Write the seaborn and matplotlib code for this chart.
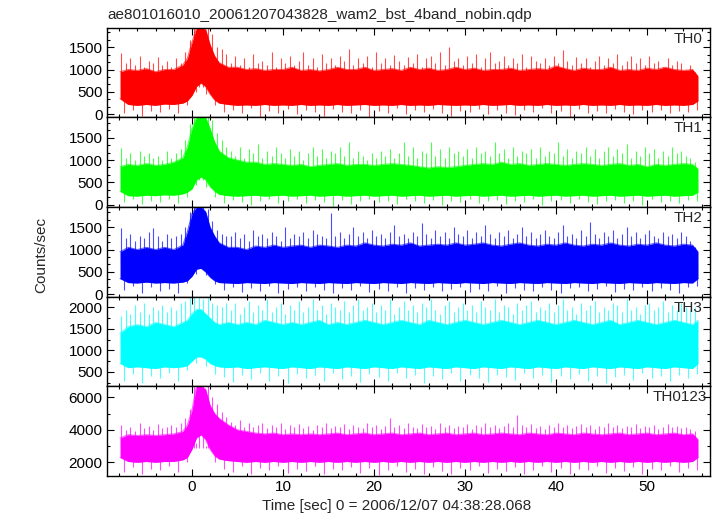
import matplotlib

matplotlib.use("Agg")
import matplotlib.pyplot as plt
import numpy as np
import seaborn as sns
from matplotlib.ticker import MultipleLocator

# Time grid (sec) of the envelope readings, finer around the burst
TIME = [-7.9, -7, -6, -5, -4, -3, -2, -1, -0.5, 0, 0.5, 1, 1.5, 2, 2.5, 3,
        4, 5, 6, 7, 8, 9, 10, 11, 12, 13, 14, 15, 16,
        17, 18, 19, 20, 21, 22, 23, 24, 25, 26, 27, 28, 29,
        30, 31, 32, 33, 34, 35, 36, 37, 38, 39, 40, 41, 42,
        43, 44, 45, 46, 47, 48, 49, 50, 51, 52, 53, 54, 55, 55.6]

# spikes: upward ones read every 0.5 s, downward ones every 1 s
UP_T = [-7.75 + 0.5 * i for i in range(127)]
DN_T = [-7.5 + 1.0 * i for i in range(64)]

# ---- TH0 ----
TH0_HI = [950, 1000, 980, 1020, 950, 1000, 1000, 1100, 1250, 1600, 1930, 1930, 1900, 1550, 1300, 1150,
          1050, 1050, 1000, 1020, 980, 1000, 1000, 1050, 980, 1000, 970, 1000, 1050,
          1000, 1000, 1050, 980, 1000, 1020, 980, 1050, 1000, 1030, 980, 1000, 1050,
          1000, 1030, 980, 1000, 1000, 1030, 980, 1000, 1020, 1000, 1080, 1020, 980,
          1030, 1000, 1000, 1050, 980, 1000, 980, 1030, 1000, 1050, 1000, 980, 1000, 850]
TH0_LO = [350, 220, 200, 220, 200, 230, 220, 250, 300, 420, 620, 700, 620, 450, 320, 250,
          220, 200, 210, 200, 220, 200, 210, 200, 220, 200, 210, 200, 220,
          200, 210, 220, 200, 210, 200, 220, 200, 210, 200, 220, 210, 200,
          210, 200, 220, 200, 210, 220, 200, 210, 200, 220, 200, 210, 200,
          220, 200, 210, 200, 220, 200, 210, 200, 220, 200, 210, 200, 220, 300]
TH0_UP = [1370, 1150, 1250, 1100, 1300, 1050, 1200, 1150, 1280, 1100, 1200, 1050, 1250, 1150,
          1400, 1650, 1930, 1930, 1930, 1930, 1800, 1500, 1450, 1350,
          1150, 1300, 1100, 1250, 1050, 1350, 1150, 1200, 1100, 1400,
          1050, 1250, 1150, 1300, 1100, 1200, 1380, 1100, 1250, 1050,
          1350, 1150, 1250, 1100, 1300, 1200, 1450, 1100, 1250, 1150,
          1300, 1050, 1400, 1150, 1250, 1100, 1330, 1200, 1100, 1280,
          1150, 1350, 1050, 1250, 1300, 1150, 1380, 1100, 1500, 1200,
          1250, 1100, 1300, 1150, 1350, 1050, 1250, 1380, 1150, 1200,
          1300, 1100, 1250, 1150, 1350, 1050, 1300, 1200, 1150, 1250,
          1100, 1300, 1150, 1430, 1200, 1100, 1280, 1150, 1250, 1050,
          1200, 1300, 1100, 1250, 1150, 1350, 1100, 1200, 1300, 1150,
          1250, 1100, 1300, 1150, 1200, 1050, 1250, 1100, 1200, 1150,
          1000, 1100, 950]
TH0_DN = [30, 100, -40, 80, 50, 120, 20, 200, 500, 450,
          200, 60, 100, 20, 130, -50, 80, 40, 110, 10,
          90, 60, -30, 120, 50, 20, 100, -60, 70, 40,
          130, 0, 90, 50, 110, 20, -40, 80, 60, 120,
          10, 100, 40, -20, 90, 60, 130, 30, 70, -50,
          110, 40, 80, 20, 120, 60, 0, 90, 50, 100,
          30, 80, 60, 100]

# ---- TH1 ----
TH1_HI = [850, 900, 880, 920, 880, 900, 950, 1050, 1300, 1700, 1955, 1955, 1955, 1700, 1400, 1200,
          1050, 1000, 950, 950, 900, 920, 900, 880, 900, 850, 880, 900, 920,
          880, 900, 900, 880, 900, 920, 900, 880, 850, 820, 850, 830, 850,
          880, 900, 920, 900, 950, 900, 920, 880, 900, 920, 900, 880, 900,
          920, 900, 880, 900, 920, 880, 900, 850, 900, 880, 900, 920, 900, 800]
TH1_LO = [300, 200, 190, 210, 200, 220, 210, 240, 280, 350, 550, 620, 560, 400, 300, 230,
          200, 190, 200, 210, 190, 200, 210, 190, 200, 210, 190, 200, 210,
          190, 200, 210, 190, 200, 210, 190, 200, 210, 190, 200, 210, 190,
          200, 210, 190, 200, 210, 190, 200, 210, 190, 200, 210, 190, 200,
          210, 190, 200, 210, 190, 200, 210, 190, 200, 210, 190, 200, 210, 280]
TH1_UP = [1280, 1050, 1150, 1000, 1200, 1100, 1150, 1050, 1100, 1000, 1200, 1050, 1150, 1250,
          1450, 1800, 1955, 1955, 1955, 1955, 1900, 1600, 1450, 1300,
          1200, 1100, 1300, 1050, 1250, 1150, 1350, 1050, 1200, 1100,
          1300, 1150, 1050, 1250, 1100, 1200, 1000, 1150, 1300, 1100,
          1250, 1050, 1200, 1150, 1300, 1100, 1400, 1050, 1200, 1100,
          1000, 1150, 1050, 1200, 1100, 1250, 1050, 1150, 1400, 1100,
          1300, 1050, 1200, 1150, 1400, 1100, 1250, 1050, 1300, 1150,
          1200, 1100, 1250, 1050, 1300, 1150, 1200, 1100, 1400, 1150,
          1250, 1050, 1300, 1100, 1200, 1150, 1250, 1050, 1300, 1100,
          1200, 1150, 1400, 1100, 1250, 1050, 1200, 1150, 1300, 1100,
          1250, 1050, 1200, 1300, 1100, 1250, 1150, 1350, 1050, 1200,
          1100, 1300, 1150, 1250, 1050, 1200, 1100, 1300, 1150, 1200,
          1100, 1050, 950]
TH1_DN = [50, 120, 20, 90, 60, 130, 40, 180, 450, 400,
          180, 40, 110, 60, -20, 90, 130, 30, 80, 120,
          40, 100, 60, -30, 110, 20, 90, 130, 50, 80,
          10, 120, 70, 40, 100, -10, 90, 60, 130, 30,
          80, 110, 20, 90, 50, 120, -20, 70, 100, 40,
          130, 60, 20, 90, 110, 40, 80, 0, 120, 60,
          90, 40, 110, 70]

# ---- TH2 ----
TH2_HI = [950, 1050, 1000, 1050, 1000, 1050, 1000, 1100, 1400, 1800, 1955, 1955, 1850, 1500, 1300, 1150,
          1050, 1050, 1000, 1080, 1050, 1100, 1050, 1080, 1100, 1050, 1100, 1080, 1050,
          1100, 1080, 1150, 1100, 1080, 1120, 1100, 1150, 1080, 1100, 1120, 1100, 1150,
          1100, 1120, 1150, 1100, 1080, 1120, 1150, 1100, 1080, 1120, 1100, 1150, 1100,
          1080, 1120, 1100, 1150, 1100, 1080, 1120, 1100, 1150, 1100, 1080, 1120, 1100, 950]
TH2_LO = [350, 260, 250, 270, 250, 260, 250, 270, 300, 400, 560, 580, 500, 380, 300, 260,
          250, 240, 260, 250, 240, 260, 250, 240, 260, 250, 240, 260, 250,
          240, 260, 250, 240, 260, 250, 240, 260, 250, 240, 260, 250, 240,
          260, 250, 240, 260, 250, 240, 260, 250, 240, 260, 250, 240, 260,
          250, 240, 260, 250, 240, 260, 250, 240, 260, 250, 240, 260, 250, 350]
TH2_UP = [1480, 1250, 1350, 1200, 1300, 1250, 1400, 1480, 1300, 1200, 1350, 1250, 1300, 1350,
          1500, 1850, 1955, 1955, 1955, 1900, 1650, 1450, 1350, 1300,
          1300, 1400, 1250, 1350, 1200, 1450, 1300, 1350, 1250, 1400,
          1300, 1200, 1500, 1250, 1350, 1300, 1400, 1250, 1450, 1350,
          1300, 1250, 1820, 1300, 1400, 1250, 1350, 1500, 1300, 1400,
          1250, 1450, 1300, 1350, 1250, 1400, 1550, 1300, 1350, 1250,
          1400, 1300, 1600, 1350, 1250, 1450, 1300, 1400, 1250, 1500,
          1350, 1300, 1450, 1250, 1400, 1300, 1550, 1350, 1250, 1400,
          1300, 1450, 1250, 1350, 1500, 1300, 1400, 1250, 1350, 1450,
          1300, 1250, 1400, 1550, 1300, 1350, 1250, 1450, 1300, 1620,
          1350, 1250, 1400, 1300, 1450, 1250, 1350, 1500, 1300, 1400,
          1250, 1350, 1450, 1300, 1250, 1400, 1300, 1350, 1250, 1400,
          1300, 1200, 1050]
TH2_DN = [100, 180, 20, 150, 60, 120, 30, 250, 450, 420,
          220, 90, 160, 40, 130, 70, 180, 20, 110, 150,
          60, 170, 90, 30, 140, 100, 180, 50, 120, 80,
          160, 20, 130, 90, 170, 60, 110, 150, 40, 120,
          80, 180, 30, 140, 100, 60, 170, 90, 20, 130,
          150, 70, 110, 180, 40, 120, 90, 160, 60, 140,
          100, 30, 150, 180]

# ---- TH3 ----
TH3_HI = [1400, 1550, 1600, 1550, 1650, 1600, 1550, 1650, 1700, 1850, 1950, 1950, 1850, 1750, 1650, 1600,
          1650, 1600, 1650, 1600, 1700, 1650, 1600, 1650, 1600, 1650, 1700, 1600, 1650,
          1600, 1650, 1700, 1650, 1600, 1650, 1700, 1650, 1600, 1700, 1650, 1600, 1650,
          1700, 1650, 1600, 1650, 1700, 1650, 1600, 1650, 1700, 1650, 1600, 1650, 1700,
          1650, 1600, 1650, 1700, 1600, 1650, 1700, 1650, 1600, 1650, 1700, 1650, 1600, 1700]
TH3_LO = [700, 600, 620, 600, 580, 620, 600, 620, 650, 750, 850, 850, 800, 700, 650, 620,
          600, 620, 580, 600, 620, 600, 580, 620, 600, 580, 620, 600, 580,
          620, 600, 580, 620, 600, 580, 620, 600, 580, 620, 600, 580, 620,
          600, 580, 620, 600, 580, 620, 600, 580, 620, 600, 580, 620, 600,
          580, 620, 600, 580, 620, 600, 580, 620, 600, 580, 620, 600, 580, 700]
TH3_UP = [1800, 1950, 1850, 2050, 1900, 2100, 1850, 2000, 1950, 2050, 1900, 2000, 1950, 2100,
          2150, 2250, 2250, 2250, 2200, 2250, 2100, 2050, 2000, 2100,
          1950, 2100, 1850, 2000, 2150, 1900, 2050, 1950, 2200, 1900,
          2000, 2100, 1850, 2050, 1950, 2150, 1900, 2000, 2200, 1950,
          2050, 1850, 2100, 2000, 1950, 2150, 1900, 2050, 2200, 1950,
          2000, 2100, 1900, 2050, 1950, 2200, 1850, 2000, 2150, 1950,
          2050, 1900, 2100, 2000, 2200, 1950, 1850, 2050, 2150, 1900,
          2000, 2100, 1950, 2050, 1900, 2150, 2000, 1950, 2200, 1900,
          2050, 2000, 1850, 2100, 1950, 2050, 2150, 1900, 2000, 1950,
          2100, 1900, 2050, 2200, 1950, 2000, 1850, 2100, 1950, 2050,
          2150, 1900, 2000, 1950, 2100, 2050, 1900, 2200, 1950, 2000,
          1850, 2050, 2100, 1950, 2000, 2150, 1900, 2050, 1950, 2100,
          2000, 1950, 2000]
TH3_DN = [300, 450, 250, 400, 350, 480, 300, 550, 700, 650,
          450, 380, 260, 420, 330, 480, 300, 400, 250, 450,
          350, 420, 280, 470, 330, 400, 260, 450, 380, 300,
          480, 350, 420, 250, 400, 330, 470, 290, 430, 360,
          260, 440, 380, 310, 470, 350, 420, 270, 400, 330,
          460, 300, 410, 250, 380, 440, 320, 470, 350, 400,
          280, 430, 360, 450]

# ---- TH0123 ----
THS_HI = [3500, 3700, 3650, 3700, 3650, 3700, 3750, 3900, 4300, 5200, 6690, 6690, 6500, 5500, 5000, 4700,
          4300, 4000, 3900, 3800, 3750, 3800, 3700, 3750, 3700, 3750, 3700, 3750, 3800,
          3700, 3750, 3800, 3700, 3750, 3800, 3700, 3750, 3800, 3700, 3750, 3800, 3700,
          3750, 3800, 3700, 3750, 3800, 3750, 3700, 3800, 3750, 3700, 3800, 3750, 3700,
          3800, 3750, 3700, 3750, 3800, 3700, 3750, 3800, 3700, 3750, 3800, 3700, 3750, 3400]
THS_LO = [2300, 2050, 2000, 2050, 2000, 2050, 2050, 2150, 2300, 2800, 3500, 3700, 3400, 2800, 2400, 2200,
          2100, 2050, 2000, 2050, 2000, 2050, 2000, 2050, 2000, 2050, 2000, 2050, 2000,
          2050, 2000, 2050, 2000, 2050, 2000, 2050, 2000, 2050, 2000, 2050, 2000, 2050,
          2000, 2050, 2000, 2050, 2000, 2050, 2000, 2050, 2000, 2050, 2000, 2050, 2000,
          2050, 2000, 2050, 2000, 2050, 2000, 2050, 2000, 2050, 2000, 2050, 2000, 2050, 2300]
THS_UP = [4300, 4000, 4200, 3950, 4400, 4100, 4250, 4000, 4350, 4100, 4200, 4300, 4150, 4400,
          4700, 5300, 6690, 6690, 6690, 6690, 6000, 5600, 5100, 4800,
          4500, 4300, 4600, 4200, 4400, 4150, 4300, 4450, 4100, 4300,
          4200, 4400, 4050, 4300, 4150, 4350, 4100, 4250, 4000, 4300,
          4200, 4400, 4100, 4250, 4150, 4350, 4050, 4300, 4200, 4100,
          4400, 4150, 4300, 4050, 4250, 4730, 4150, 4300, 4100, 4400,
          4200, 4100, 4350, 4150, 4250, 4050, 4400, 4200, 4300, 4100,
          4250, 4150, 4350, 4050, 4300, 4200, 4450, 4150, 4300, 4100,
          4250, 4400, 4200, 4920, 4300, 4150, 4350, 4100, 4250, 4050,
          4300, 4200, 4450, 4150, 4300, 4100, 4250, 4350, 4150, 4300,
          4050, 4250, 4200, 4400, 4150, 4300, 4100, 4250, 4200, 4350,
          4100, 4250, 4150, 4300, 4050, 4200, 4350, 4150, 4250, 4100,
          4200, 4050, 3900]
THS_DN = [1400, 1700, 1300, 1600, 1500, 1750, 1400, 2000, 3200, 3000,
          2000, 1600, 1400, 1750, 1300, 1650, 1500, 1800, 1350, 1600,
          1450, 1750, 1250, 1600, 1500, 1700, 1350, 1650, 1200, 1550,
          1750, 1400, 1600, 1300, 1700, 1450, 1250, 1650, 1500, 1750,
          1350, 1600, 1450, 1700, 1300, 1550, 1750, 1400, 1650, 1250,
          1600, 1500, 1750, 1350, 1650, 1450, 1700, 1300, 1600, 1500,
          1750, 1400, 1650, 1550]

LABELS = ["TH0", "TH1", "TH2", "TH3", "TH0123"]
COLORS = ["#ff0000", "#00ff00", "#0000ff", "#00ffff", "#ff00ff"]

panels = [
    (TH0_HI, TH0_LO, TH0_UP, TH0_DN),
    (TH1_HI, TH1_LO, TH1_UP, TH1_DN),
    (TH2_HI, TH2_LO, TH2_UP, TH2_DN),
    (TH3_HI, TH3_LO, TH3_UP, TH3_DN),
    (THS_HI, THS_LO, THS_UP, THS_DN),
]

# axis settings per panel: ylim, major, minor, label x-position
YLIMS = [(-70, 1930), (-55, 1955), (-55, 1955), (170, 2250), (1170, 6690)]
YMAJOR = [500, 500, 500, 500, 2000]
YMINOR = [500 / 3, 500 / 3, 500 / 3, 250, 1000]
LABEL_X = [0.988, 0.988, 0.988, 0.988, 0.996]

sns.set_style("ticks")
plt.rcParams["font.family"] = ["Liberation Sans", "DejaVu Sans"]
plt.rcParams["font.size"] = 11

fig, axes = plt.subplots(5, 1, sharex=True, figsize=(7.17, 5.16), dpi=100)
fig.subplots_adjust(left=0.149, right=0.990, top=0.946, bottom=0.078, hspace=0)

t = np.array(TIME)
for ax, (hi, lo, up_v, dn_v), lab, col, ylim, maj, mnr, lx in zip(
    axes, panels, LABELS, COLORS, YLIMS, YMAJOR, YMINOR, LABEL_X
):
    hi = np.array(hi)
    lo = np.array(lo)
    mid = float(np.median((hi + lo) / 2))
    ax.fill_between(t, lo, hi, color=col, lw=0)
    sns.lineplot(x=t, y=hi, ax=ax, color=col, lw=0.8, alpha=0.6)
    sns.lineplot(x=t, y=lo, ax=ax, color=col, lw=0.8, alpha=0.6)
    # individual spikes above and below the bulk of the noise
    ax.vlines(UP_T, mid, up_v, color=col, lw=0.8, alpha=0.7)
    ax.vlines(DN_T, mid, dn_v, color=col, lw=0.8, alpha=0.7)

    ax.set_ylim(*ylim)
    ax.set_xlim(-9.35, 56.9)
    ax.yaxis.set_major_locator(MultipleLocator(maj))
    ax.yaxis.set_minor_locator(MultipleLocator(mnr))
    ax.xaxis.set_major_locator(MultipleLocator(10))
    ax.xaxis.set_minor_locator(MultipleLocator(2))
    ax.tick_params(which="both", direction="in", top=True, right=True,
                   colors="black", labelsize=11, pad=3)
    ax.tick_params(which="major", length=5, width=0.8)
    ax.tick_params(which="minor", length=2.5, width=0.8)
    for s in ax.spines.values():
        s.set_linewidth(1.0)
        s.set_color("black")
    ax.set_ylabel("")
    ax.text(lx, 0.955, lab, transform=ax.transAxes, ha="right", va="top",
            fontsize=11)

axes[-1].set_xticks([0, 10, 20, 30, 40, 50])

fig.text(107 / 717, 1 - 15.5 / 516,
         "ae801016010_20061207043828_wam2_bst_4band_nobin.qdp",
         ha="left", va="center", fontsize=11)
fig.text(41 / 717, 0.506, "Counts/sec", rotation=90, ha="center",
         va="center", fontsize=11)
fig.text(397 / 717, 0.02, "Time [sec] 0 = 2006/12/07 04:38:28.068",
         ha="center", va="center", fontsize=11)

fig.savefig("out.png", dpi=100)
